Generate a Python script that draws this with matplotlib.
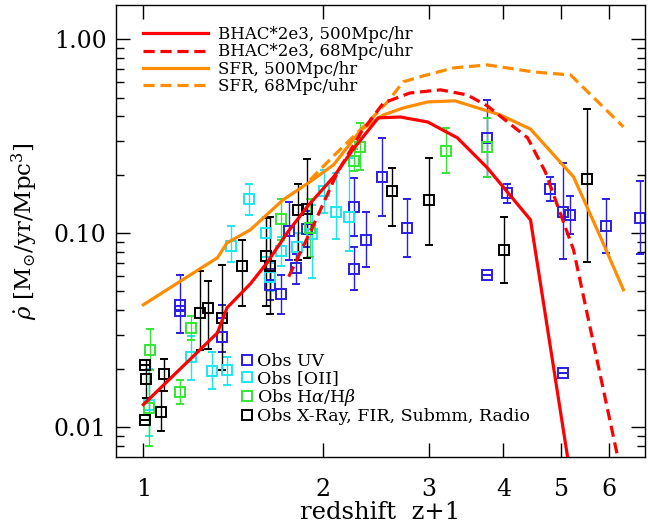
import numpy as np
import matplotlib
matplotlib.use('Agg')
import matplotlib.pyplot as plt
from matplotlib.ticker import FixedLocator, NullLocator, LogLocator, FixedFormatter, NullFormatter
from matplotlib.lines import Line2D

plt.rcParams['font.family'] = ['DejaVu Serif']
plt.rcParams['mathtext.fontset'] = 'dejavuserif'

# ---------------- model curves ----------------
sfr_hr_x = [1.0, 1.236, 1.33, 1.38, 1.51, 1.71, 1.90, 2.08, 2.31, 2.52, 2.72, 2.99, 3.32, 3.95, 4.44, 5.24, 5.81, 6.35]
sfr_hr_y = [0.0427, 0.0647, 0.0746, 0.089, 0.104, 0.148, 0.184, 0.225, 0.34, 0.407, 0.442, 0.475, 0.481, 0.407, 0.344, 0.195, 0.0957, 0.051]

sfr_uhr_x = [1.90, 2.08, 2.37, 2.56, 2.72, 2.94, 3.30, 3.76, 4.49, 5.18, 6.35]
sfr_uhr_y = [0.188, 0.25, 0.37, 0.475, 0.603, 0.647, 0.711, 0.737, 0.678, 0.654, 0.353]

bhac_hr_x = [1.0, 1.33, 1.38, 1.51, 1.61, 1.74, 1.88, 2.08, 2.24, 2.47, 2.69, 2.99, 3.35, 3.76, 4.44, 5.12, 5.25]
bhac_hr_y = [0.01305, 0.0306, 0.0412, 0.0548, 0.0703, 0.1004, 0.137, 0.195, 0.269, 0.393, 0.397, 0.374, 0.31, 0.217, 0.117, 0.00703, 0.0041]

bhac_uhr_x = [1.75, 1.92, 2.11, 2.31, 2.52, 2.79, 3.14, 3.48, 3.76, 4.39, 4.70, 5.24, 6.21, 6.40]
bhac_uhr_y = [0.0596, 0.108, 0.205, 0.329, 0.469, 0.528, 0.548, 0.516, 0.453, 0.31, 0.207, 0.082, 0.00703, 0.00447]

# ---------------- observations: x, y, lower end, upper end ----------------
uv_x  = [2.253, 2.253, 2.357, 2.507, 2.761, 3.756, 4.058, 3.756, 4.793, 5.026, 5.164, 5.938, 6.761, 5.026,
         1.750, 1.701, 1.803, 1.631, 1.878, 1.153, 1.153, 1.354, 1.354]
uv_y  = [0.1371, 0.0655, 0.0923, 0.1957, 0.1061, 0.311, 0.1607, 0.0610, 0.1692, 0.1292, 0.1243, 0.1091, 0.1195, 0.0190,
         0.1027, 0.0485, 0.0660, 0.0541, 0.1052, 0.0427, 0.0398, 0.0365, 0.0291]
uv_lo = [0.0972, 0.0510, 0.0670, 0.1232, 0.0757, 0.1957, 0.1428, 0.0610, 0.1472, 0.0734, 0.0992, 0.0788, 0.0776, 0.0190,
         0.0729, 0.0384, 0.0548, 0.0450, 0.0850, 0.0305, 0.0398, 0.0365, 0.0245]
uv_hi = [0.1920, 0.0853, 0.1288, 0.3110, 0.1502, 0.4866, 0.1795, 0.0610, 0.1943, 0.2311, 0.1562, 0.1508, 0.1854, 0.0190,
         0.1455, 0.0610, 0.0782, 0.0650, 0.1300, 0.0605, 0.0398, 0.0427, 0.0365]

oii_x  = [1.504, 1.404, 1.604, 1.701, 1.807, 1.915, 2.007, 2.102, 2.204, 1.631, 1.203, 1.303, 1.380, 1.023]
oii_y  = [0.1497, 0.0860, 0.1000, 0.0810, 0.0843, 0.0992, 0.1652, 0.1283, 0.1218, 0.0597, 0.0229, 0.0195, 0.0197, 0.0130]
oii_lo = [0.1243, 0.0706, 0.0757, 0.0680, 0.0700, 0.0588, 0.1268, 0.0931, 0.0804, 0.0500, 0.0175, 0.0158, 0.0165, 0.0090]
oii_hi = [0.1789, 0.1094, 0.1218, 0.0950, 0.1000, 0.1399, 0.2120, 0.2039, 0.2444, 0.0700, 0.0293, 0.0245, 0.0231, 0.0200]

ha_x  = [2.306, 2.253, 3.212, 3.756, 1.701, 1.902, 1.027, 1.203, 1.153, 1.023]
ha_y  = [0.2795, 0.2358, 0.2656, 0.2775, 0.1181, 0.1061, 0.0250, 0.0324, 0.0152, 0.0125]
ha_lo = [0.2120, 0.2100, 0.2039, 0.1957, 0.0923, 0.0757, 0.0197, 0.0282, 0.0132, 0.00794]
ha_hi = [0.3690, 0.2700, 0.3500, 0.3915, 0.1497, 0.1508, 0.0321, 0.0372, 0.0174, 0.0197]

xr_x  = [2.606, 3.008, 4.005, 5.521, 1.462, 1.604, 1.631, 1.811, 1.878, 1.242, 1.283, 1.354, 1.008, 1.012, 1.081, 1.005, 1.072]
xr_y  = [0.1652, 0.1484, 0.0820, 0.1905, 0.0673, 0.0766, 0.0678, 0.1318, 0.1334, 0.0387, 0.0411, 0.0365, 0.0209, 0.0177, 0.0188, 0.0109, 0.0120]
xr_lo = [0.1091, 0.0871, 0.0556, 0.0706, 0.0423, 0.0423, 0.0384, 0.0729, 0.0743, 0.0250, 0.0252, 0.0197, 0.0209, 0.0141, 0.0153, 0.0109, 0.00957]
xr_hi = [0.2163, 0.2453, 0.1218, 0.4356, 0.0923, 0.1199, 0.1218, 0.1789, 0.2415, 0.0634, 0.0563, 0.0686, 0.0209, 0.0222, 0.0225, 0.0109, 0.0153]

xticks = [1, 2, 3, 4, 5, 6]
xticklabels = ['1', '2', '3', '4', '5', '6']
yticks = [0.01, 0.1, 1.0]
yticklabels = ['0.01', '0.10', '1.00']

C_RED = '#ff0000'
C_ORANGE = '#ff8c00'
C_UV = '#2a1ee0'
C_OII = '#1ee6f0'
C_HA = '#33e633'
C_XR = '#000000'

fig = plt.figure(figsize=(6.48, 5.27), dpi=100)
ax = fig.add_axes([0.179, 0.1334, 0.8164, 0.857])
ax.set_xscale('log')
ax.set_yscale('log')

MS = 7.8

def obs(x, y, lo, hi, color):
    x = np.array(x); y = np.array(y); lo = np.array(lo); hi = np.array(hi)
    ax.errorbar(x, y, yerr=[y - lo, hi - y], fmt='s', mfc='none', mec=color, ecolor=color,
                ms=MS, mew=1.4, elinewidth=1.0, capsize=3, capthick=1.0, zorder=2)

obs(uv_x, uv_y, uv_lo, uv_hi, C_UV)
obs(oii_x, oii_y, oii_lo, oii_hi, C_OII)
obs(ha_x, ha_y, ha_lo, ha_hi, C_HA)
obs(xr_x, xr_y, xr_lo, xr_hi, C_XR)

dash = (0, (3.5, 1.8))
l1, = ax.plot(bhac_hr_x, bhac_hr_y, color=C_RED, lw=2.3, zorder=4)
l2, = ax.plot(bhac_uhr_x, bhac_uhr_y, color=C_RED, lw=2.3, ls=dash, zorder=4)
l3, = ax.plot(sfr_hr_x, sfr_hr_y, color=C_ORANGE, lw=2.3, zorder=3)
l4, = ax.plot(sfr_uhr_x, sfr_uhr_y, color=C_ORANGE, lw=2.3, ls=dash, zorder=3)

ax.set_xlim(0.9, 6.9)
ax.set_ylim(0.00703, 1.50)

ax.xaxis.set_major_locator(FixedLocator(xticks))
ax.xaxis.set_major_formatter(FixedFormatter(xticklabels))
ax.xaxis.set_minor_locator(NullLocator())
ax.yaxis.set_major_locator(FixedLocator(yticks))
ax.yaxis.set_major_formatter(FixedFormatter(yticklabels))
ax.yaxis.set_minor_locator(LogLocator(base=10, subs=np.arange(2, 10)))
ax.yaxis.set_minor_formatter(NullFormatter())

ax.tick_params(which='both', direction='in', top=True, right=True, width=1.0, labelsize=17)
ax.tick_params(which='major', length=10)
ax.tick_params(which='minor', length=6)
ax.tick_params(axis='x', pad=15.5)
ax.tick_params(axis='y', pad=6.7)
for s in ax.spines.values():
    s.set_linewidth(1.0)

ax.set_xlabel('redshift  z+1', fontsize=17.5, labelpad=0)
ax.set_ylabel(r'$\dot{\rho}\ [\mathrm{M}_{\odot}/\mathrm{yr}/\mathrm{Mpc}^3]$', fontsize=16.5, labelpad=10)

leg1 = ax.legend([l1, l2, l3, l4],
                 ['BHAC*2e3, 500Mpc/hr', 'BHAC*2e3, 68Mpc/uhr', 'SFR, 500Mpc/hr', 'SFR, 68Mpc/uhr'],
                 loc='upper left', bbox_to_anchor=(0.0516, 0.9535), frameon=False, fontsize=12,
                 borderpad=0, borderaxespad=0, handlelength=3.9, handletextpad=0.6, labelspacing=0.02)
ax.add_artist(leg1)

hs = [Line2D([], [], ls='none', marker='s', mfc='none', mec=c, ms=MS, mew=1.4) for c in (C_UV, C_OII, C_HA, C_XR)]
ax.legend(hs, ['Obs UV', 'Obs [OII]', r'Obs H$\alpha$/H$\beta$', 'Obs X-Ray, FIR, Submm, Radio'],
          loc='upper left', bbox_to_anchor=(0.2355, 0.2300), frameon=False, fontsize=12.5,
          borderpad=0, borderaxespad=0, handlelength=0.75, handletextpad=0.2, labelspacing=0.0)

fig.savefig('out.png', dpi=100)
